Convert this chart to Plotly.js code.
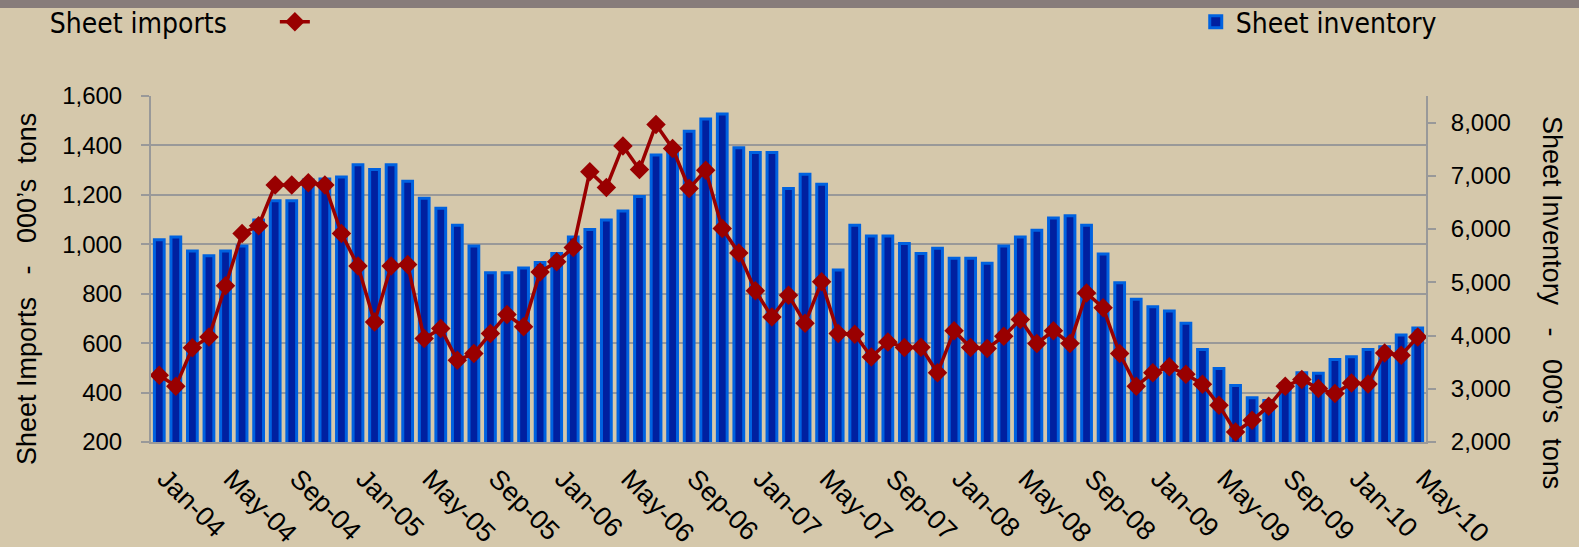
<!DOCTYPE html>
<html>
<head>
<meta charset="utf-8">
<script src="https://cdn.plot.ly/plotly-3.0.1.min.js"></script>
<style>
  html, body { margin: 0; padding: 0; background: #D5C8AB; }
</style>
</head>
<body>
<div id="chart" style="width:1579px;height:547px;"></div>
<script>
// monthly data, Jan-04 .. May-10
var imports = [
  470, 426, 581, 625, 832, 1044, 1075, 1240, 1240, 1249, 1240, 1044,
  912, 686, 912, 918, 619, 659, 531, 558, 639, 716, 666, 888,
  929, 987, 1294, 1230, 1398, 1303, 1485, 1388, 1226, 1300, 1064, 965,
  812, 706, 794, 680, 848, 639, 636, 544, 605, 582, 583, 480,
  650, 582, 578, 628, 696, 599, 650, 599, 803, 743, 558, 426,
  480, 504, 474, 434, 349, 240, 288, 345, 426, 453, 416, 396,
  439, 435, 560, 551, 625
];
var inventory = [
  5800, 5850, 5590, 5500, 5590, 5680, 6170, 6530, 6530, 6920, 6940, 6980,
  7210, 7120, 7210, 6900, 6580, 6390, 6070, 5680, 5180, 5180, 5270, 5370,
  5540, 5850, 5990, 6170, 6340, 6610, 7390, 7550, 7840, 8070, 8160, 7530,
  7440, 7440, 6760, 7030, 6840, 5230, 6070, 5870, 5870, 5730, 5540, 5640,
  5450, 5450, 5360, 5680, 5850, 5980, 6210, 6250, 6070, 5530, 4990, 4680,
  4540, 4460, 4230, 3740, 3380, 3060, 2830, 2780, 3100, 3300, 3290, 3550,
  3600, 3740, 3790, 4010, 4140
];

var monthNames = ["Jan", "Feb", "Mar", "Apr", "May", "Jun", "Jul", "Aug", "Sep", "Oct", "Nov", "Dec"];
var months = [];
for (var i = 0; i < imports.length; i++) {
  var yr = 4 + Math.floor(i / 12);
  months.push(monthNames[i % 12] + "-" + (yr < 10 ? "0" + yr : yr));
}
// a label every 4 months
var tickMonths = months.filter(function (m, i) { return i % 4 === 0; });

var grey = "#999999";
var bg = "#D5C8AB";

// bars go on the main y axis so the line (overlay) is drawn on top
var barTrace = {
  x: months,
  y: inventory,
  type: "bar",
  name: "Sheet inventory",
  yaxis: "y",
  legend: "legend2",
  marker: { color: "#0020A0", line: { color: "#0062E0", width: 3 } }
};

// name left blank: the legend title carries the text so it sits left of the symbol
var lineTrace = {
  x: months,
  y: imports,
  type: "scatter",
  mode: "lines+markers",
  name: "\u00a0",
  showlegend: true,
  yaxis: "y2",
  legend: "legend",
  line: { color: "#990000", width: 3.5 },
  marker: { symbol: "diamond", size: 15, color: "#990000" }
};

var legendFont = { family: "DejaVu Sans Condensed, DejaVu Sans, sans-serif", size: 28, color: "#000" };

var layout = {
  width: 1579,
  height: 547,
  margin: { l: 151, r: 153, t: 96, b: 105, autoexpand: false },
  paper_bgcolor: bg,
  plot_bgcolor: bg,
  font: { family: "Liberation Sans, Arial, sans-serif", size: 22, color: "#000" },
  bargap: 0.41,
  showlegend: true,
  xaxis: {
    type: "category",
    range: [-0.5, months.length - 0.5],
    tickvals: tickMonths,
    ticktext: tickMonths,
    tickangle: 45,
    tickfont: { size: 27 },
    ticklabelstandoff: 8,
    ticklabelshift: 6,
    ticks: "",
    showgrid: false,
    showline: true,
    linecolor: grey,
    linewidth: 2
  },
  yaxis: {
    side: "right",
    range: [2000, 8500],
    tickvals: [2000, 3000, 4000, 5000, 6000, 7000, 8000],
    tickformat: ",d",
    showgrid: false,
    zeroline: false,
    showline: true,
    linecolor: grey,
    linewidth: 2,
    ticks: "outside",
    ticklen: 8,
    tickwidth: 2,
    tickcolor: grey,
    ticklabelstandoff: 10,
    tickfont: { size: 24 }
  },
  yaxis2: {
    overlaying: "y",
    side: "left",
    range: [200, 1600],
    dtick: 200,
    tickformat: ",d",
    showgrid: true,
    gridcolor: grey,
    gridwidth: 2,
    zeroline: false,
    showline: true,
    linecolor: grey,
    linewidth: 2,
    ticks: "outside",
    ticklen: 8,
    tickwidth: 2,
    tickcolor: grey,
    ticklabelstandoff: 14,
    tickfont: { size: 24 }
  },
  legend: {
    title: { text: "Sheet imports\u00a0\u00a0\u00a0\u00a0\u00a0", side: "left", font: legendFont },
    font: legendFont,
    orientation: "h",
    x: -0.081, xanchor: "left",
    y: 1.214, yanchor: "middle",
    bgcolor: "rgba(0,0,0,0)"
  },
  legend2: {
    font: legendFont,
    orientation: "h",
    x: 0.8194, xanchor: "left",
    y: 1.214, yanchor: "middle",
    bgcolor: "rgba(0,0,0,0)"
  },
  annotations: [
    {
      text: "Sheet Imports\u00a0\u00a0\u00a0-\u00a0\u00a0\u00a0000\u2019s\u00a0\u00a0tons",
      xref: "paper", yref: "paper",
      x: (27 - 151) / 1275, y: (442 - 289) / 346,
      textangle: -90, showarrow: false,
      xanchor: "center", yanchor: "middle",
      font: { size: 27 }
    },
    {
      text: "Sheet Inventory\u00a0\u00a0\u00a0-\u00a0\u00a0\u00a0000\u2019s\u00a0\u00a0tons",
      xref: "paper", yref: "paper",
      x: (1552 - 151) / 1275, y: (442 - 302) / 346,
      textangle: 90, showarrow: false,
      xanchor: "center", yanchor: "middle",
      font: { size: 27 }
    }
  ],
  shapes: [
    // grey band along the top edge
    {
      type: "rect", xref: "paper", yref: "paper",
      x0: -151 / 1275, x1: 1 + 153 / 1275,
      y0: (442 - 8) / 346, y1: 442 / 346,
      fillcolor: "#877C7A", line: { width: 0 }
    }
  ]
};

Plotly.newPlot("chart", [barTrace, lineTrace], layout, { displayModeBar: false });
</script>
</body>
</html>
